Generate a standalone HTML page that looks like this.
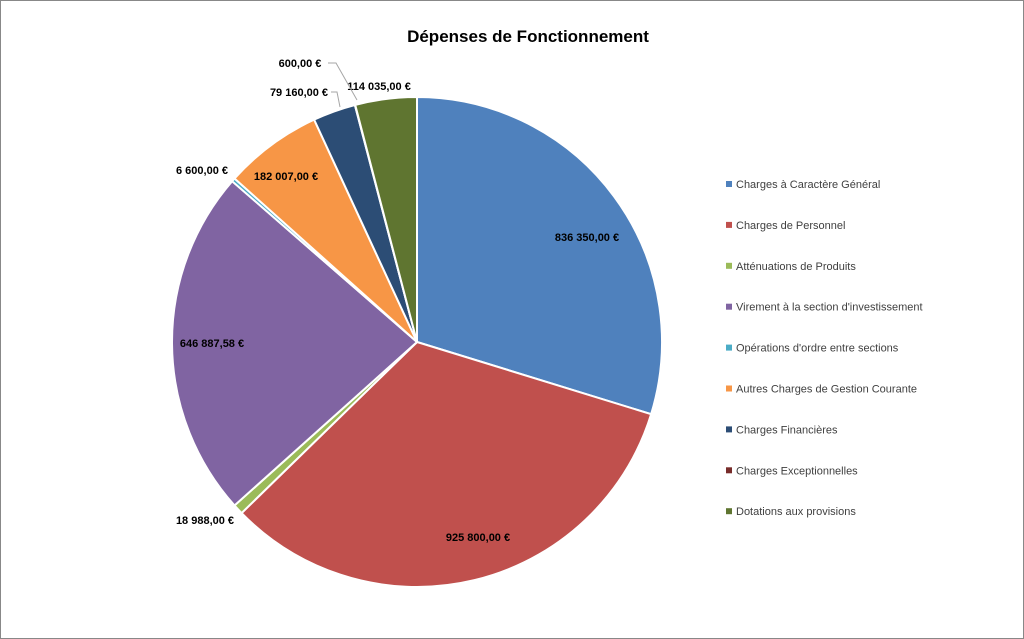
<!DOCTYPE html>
<html><head><meta charset="utf-8"><style>
body{margin:0;background:#fff;}
svg{display:block;font-family:"Liberation Sans",sans-serif;}
</style></head><body>
<svg id="chart" width="1024" height="639">
<rect x="0.5" y="0.5" width="1023" height="638" fill="#fff" stroke="#888"/>
<text x="528" y="42" text-anchor="middle" font-size="17" font-weight="bold" fill="#000">Dépenses de Fonctionnement</text>
<g id="slices"></g>
<g id="labels"></g>
<g id="legend"></g>
<polyline points="328,63 336,63 357,100" fill="none" stroke="#a6a6a6"/>
<polyline points="331,92 337,92 340,107" fill="none" stroke="#a6a6a6"/>
</svg>
<script>
const categories=["Charges à Caractère Général","Charges de Personnel","Atténuations de Produits","Virement à la section d'investissement","Opérations d'ordre entre sections","Autres Charges de Gestion Courante","Charges Financières","Charges Exceptionnelles","Dotations aux provisions"];
const values=[836350,925800,18988,646887.58,6600,182007,79160,600,114035];
const valueLabels=["836 350,00 €","925 800,00 €","18 988,00 €","646 887,58 €","6 600,00 €","182 007,00 €","79 160,00 €","600,00 €","114 035,00 €"];
const colors=["#4f81bd","#c0504d","#9bbb59","#8064a2","#4bacc6","#f79646","#2c4d75","#772c2a","#5f7530"];
const labelPos=[[587,241],[478,541],[205,524],[212,347],[202,174],[286,180],[299,96],[300,67],[379,90]];
const NS="http://www.w3.org/2000/svg";
const cx=417,cy=342,r=245;
const total=values.reduce((a,b)=>a+b,0);
let ang=0;
const sg=document.getElementById('slices');
values.forEach((v,i)=>{
  const a0=ang, a1=ang+v/total*2*Math.PI; ang=a1;
  const x0=cx+r*Math.sin(a0), y0=cy-r*Math.cos(a0);
  const x1=cx+r*Math.sin(a1), y1=cy-r*Math.cos(a1);
  const large=(a1-a0)>Math.PI?1:0;
  const p=document.createElementNS(NS,'path');
  p.setAttribute('d',`M${cx},${cy} L${x0},${y0} A${r},${r} 0 ${large} 1 ${x1},${y1} Z`);
  p.setAttribute('fill',colors[i]);p.setAttribute('stroke','#fff');p.setAttribute('stroke-width','2');
  
  
  sg.appendChild(p);
});
const lg=document.getElementById('labels');
valueLabels.forEach((t,i)=>{
  const e=document.createElementNS(NS,'text');
  e.setAttribute('x',labelPos[i][0]);e.setAttribute('y',labelPos[i][1]);
  e.setAttribute('text-anchor','middle');e.setAttribute('font-size','11');e.setAttribute('font-weight','bold');e.setAttribute('fill','#000');
  e.textContent=t;
  
  
  lg.appendChild(e);
});
const leg=document.getElementById('legend');
categories.forEach((c,i)=>{
  const y=184+i*40.9;
  const g=document.createElementNS(NS,'g');
  
  
  const s=document.createElementNS(NS,'rect');
  s.setAttribute('x',726);s.setAttribute('y',y-3);s.setAttribute('width',6);s.setAttribute('height',6);s.setAttribute('fill',colors[i]);
  const t=document.createElementNS(NS,'text');
  t.setAttribute('x',736);t.setAttribute('y',y+4);t.setAttribute('font-size','11');t.setAttribute('fill','#404040');
  t.textContent=c;
  g.appendChild(s);g.appendChild(t);leg.appendChild(g);
});
</script>
</body></html>
